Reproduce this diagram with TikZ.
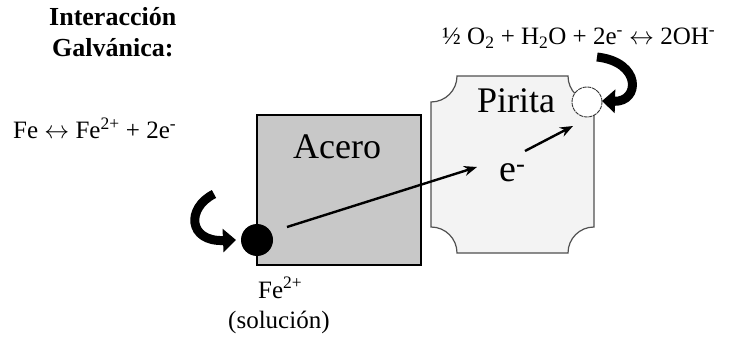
\documentclass[tikz,border=0pt]{standalone}
\usepackage{fontspec}
\setmainfont{Liberation Serif}
\usetikzlibrary{arrows.meta}
\newcommand{\lrarr}{\raisebox{0.5pt}{$\leftrightarrow$}}
\tikzset{
  lbl/.style={anchor=base west, inner sep=0pt, font=\fontsize{25}{28}\selectfont},
  ttl/.style={anchor=base west, inner sep=0pt, font=\fontsize{26}{28}\selectfont\bfseries},
  big/.style={anchor=base west, inner sep=0pt, font=\fontsize{36}{40}\selectfont},
  thinarrow/.style={line width=2.4pt, -{Stealth[length=13pt,width=10pt]}},
  bigarrow/.style={line width=9pt, -{Triangle[length=13pt,width=23pt]}},
}
\begin{document}
\begin{tikzpicture}[x=1pt,y=1pt]
\useasboundingbox (0,0) rectangle (730,340);
% Acero block
\path[fill={rgb,255:red,200;green,200;blue,200}, draw=black, line width=1.2pt]
  (257,75) rectangle (421,225);
% Pirita block
\path[fill={rgb,255:red,243;green,243;blue,243}, draw={rgb,255:red,80;green,80;blue,80}, line width=1.2pt]
  (457,264) -- (568,264) arc[start angle=180, end angle=270, radius=26]
  -- (594,113) arc[start angle=90, end angle=180, radius=26]
  -- (457,87) arc[start angle=0, end angle=90, radius=26]
  -- (431,238) arc[start angle=270, end angle=360, radius=26] -- cycle;
% circles
\node[circle, fill=black, minimum size=32pt, inner sep=0pt] (fe) at (257,100) {};
\node[circle, fill=white, draw={rgb,255:red,50;green,50;blue,50}, dash pattern=on 4pt off 0.8pt, line width=0.9pt, minimum size=30pt, inner sep=0pt] (oh) at (587,238) {};
% texts
\node[ttl] (t1) at (49,314) {Interacción};
\node[ttl] (t2) at (52,283) {Galvánica:};
\node[lbl] (eqfe) at (13,201) {Fe \lrarr{} Fe\textsuperscript{2+} + 2e\textsuperscript{-}};
\node[lbl] (eqo) at (442,295) {½ O\textsubscript{2} + H\textsubscript{2}O + 2e\textsuperscript{-} \lrarr{} 2OH\textsuperscript{-}};
\node[big] (acero) at (293,181) {Acero};
\node[big] (pirita) at (477,227) {Pirita};
\node[anchor=base west, inner sep=0pt, font=\fontsize{38}{42}\selectfont] (el) at (499,158) {e\textsuperscript{-}};
\node[lbl] (fe2) at (258,42) {Fe\textsuperscript{2+}};
\node[lbl] (sol) at (228,12) {(solución)};
% electron arrows
\coordinate (a1s) at (287,113);
\coordinate (a1e) at (477,173);
\coordinate (a2s) at (525,189);
\coordinate (a2e) at (573,214);
\draw[thinarrow] (a1s) -- (a1e);
\draw[thinarrow] (a2s) -- (a2e);
% curved reaction arrows
\coordinate (l1) at (214,146);
\coordinate (l2) at (236,100);
\draw[bigarrow] (l1) .. controls (186,132) and (188,98) .. (l2);
\coordinate (r1) at (597,283);
\coordinate (r2) at (602,239);
\draw[bigarrow] (r1) .. controls (642,278) and (640,238) .. (r2);
\end{tikzpicture}
\end{document}
